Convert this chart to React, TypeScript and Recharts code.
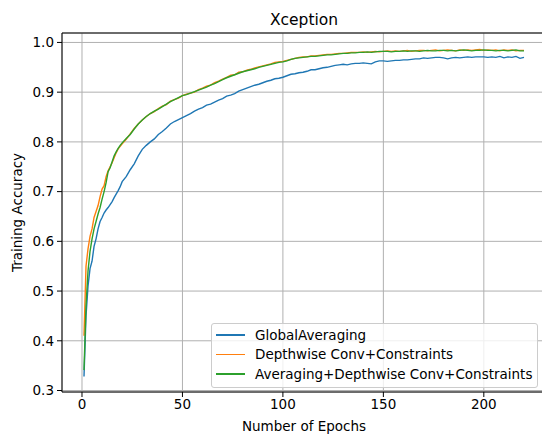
import { LineChart, Line, XAxis, YAxis, CartesianGrid, Legend, ReferenceLine } from 'recharts';

const FONT = '"DejaVu Sans", sans-serif';

const COLORS = {
  global: '#1f77b4',
  depthwise: '#ff7f0e',
  combined: '#2ca02c',
  grid: '#b0b0b0',
  text: '#000000',
};

// epochs 1..20 every epoch, then every second epoch up to 220
const epochs = [
  1, 2, 3, 4, 5, 6, 7, 8, 9, 10, 11, 12, 13, 14, 15, 16, 17, 18, 19, 20,
  22, 24, 26, 28, 30, 32, 34, 36, 38, 40, 42, 44, 46, 48, 50, 52, 54, 56, 58, 60,
  62, 64, 66, 68, 70, 72, 74, 76, 78, 80, 82, 84, 86, 88, 90, 92, 94, 96, 98, 100,
  102, 104, 106, 108, 110, 112, 114, 116, 118, 120, 122, 124, 126, 128, 130, 132, 134, 136, 138, 140,
  142, 144, 146, 148, 150, 152, 154, 156, 158, 160, 162, 164, 166, 168, 170, 172, 174, 176, 178, 180,
  182, 184, 186, 188, 190, 192, 194, 196, 198, 200, 202, 204, 206, 208, 210, 212, 214, 216, 218, 220,
];

const globalAveraging = [
  0.328, 0.45, 0.51, 0.545, 0.56, 0.59, 0.605, 0.625, 0.64, 0.648, 0.657, 0.663, 0.668, 0.674, 0.68, 0.688, 0.695, 0.702, 0.71, 0.72,
  0.73, 0.744, 0.756, 0.772, 0.785, 0.793, 0.8, 0.806, 0.815, 0.821, 0.828, 0.836, 0.841, 0.845, 0.849, 0.853, 0.857, 0.862, 0.866, 0.869,
  0.874, 0.876, 0.88, 0.884, 0.887, 0.892, 0.894, 0.897, 0.902, 0.905, 0.908, 0.911, 0.914, 0.916, 0.919, 0.922, 0.924, 0.927, 0.928, 0.93,
  0.933, 0.936, 0.937, 0.939, 0.94, 0.942, 0.945, 0.945, 0.947, 0.949, 0.95, 0.952, 0.954, 0.955, 0.956, 0.955, 0.957, 0.958, 0.958, 0.959,
  0.958, 0.957, 0.961, 0.963, 0.963, 0.962, 0.963, 0.964, 0.964, 0.965, 0.965, 0.966, 0.967, 0.967, 0.969, 0.968, 0.969, 0.97, 0.97, 0.969,
  0.967, 0.969, 0.97, 0.969, 0.97, 0.971, 0.97, 0.971, 0.971, 0.971, 0.97, 0.971, 0.97, 0.972, 0.969, 0.971, 0.97, 0.972, 0.968, 0.97,
];

const depthwiseConstraints = [
  0.41, 0.55, 0.585, 0.61, 0.625, 0.648, 0.66, 0.672, 0.69, 0.705, 0.712, 0.73, 0.742, 0.75, 0.758, 0.768, 0.778, 0.786, 0.791, 0.796,
  0.805, 0.816, 0.827, 0.836, 0.844, 0.851, 0.857, 0.861, 0.867, 0.872, 0.875, 0.882, 0.885, 0.888, 0.893, 0.896, 0.898, 0.9, 0.905, 0.908,
  0.912, 0.914, 0.919, 0.922, 0.926, 0.93, 0.934, 0.935, 0.94, 0.941, 0.944, 0.946, 0.949, 0.951, 0.953, 0.955, 0.957, 0.96, 0.961, 0.962,
  0.964, 0.966, 0.968, 0.97, 0.971, 0.971, 0.973, 0.973, 0.974, 0.975, 0.976, 0.976, 0.977, 0.978, 0.978, 0.979, 0.98, 0.98, 0.98, 0.981,
  0.98, 0.981, 0.982, 0.981, 0.982, 0.983, 0.982, 0.983, 0.982, 0.983, 0.984, 0.982, 0.983, 0.984, 0.984, 0.983, 0.984, 0.985, 0.983, 0.984,
  0.985, 0.984, 0.983, 0.985, 0.984, 0.985, 0.984, 0.985, 0.986, 0.984, 0.985, 0.984, 0.985, 0.983, 0.985, 0.984, 0.985, 0.983, 0.984, 0.984,
];

const averagingDepthwise = [
  0.341, 0.47, 0.54, 0.58, 0.605, 0.625, 0.64, 0.655, 0.668, 0.685, 0.7, 0.718, 0.74, 0.748, 0.76, 0.772, 0.78, 0.787, 0.793, 0.798,
  0.807, 0.815, 0.826, 0.836, 0.844, 0.851, 0.857, 0.862, 0.866, 0.871, 0.876, 0.881, 0.885, 0.889, 0.893, 0.895, 0.898, 0.901, 0.904, 0.907,
  0.91, 0.914, 0.917, 0.921, 0.925, 0.929, 0.932, 0.935, 0.938, 0.941, 0.943, 0.945, 0.947, 0.95, 0.952, 0.954, 0.956, 0.958, 0.96, 0.961,
  0.963, 0.966, 0.968, 0.969, 0.97, 0.971, 0.972, 0.972, 0.973, 0.974, 0.975, 0.975, 0.976, 0.977, 0.978, 0.978, 0.979, 0.979, 0.98, 0.98,
  0.981, 0.98, 0.981, 0.982, 0.982, 0.982, 0.981, 0.982, 0.982, 0.983, 0.982, 0.983, 0.983, 0.982, 0.983, 0.984, 0.983, 0.983, 0.984, 0.984,
  0.983, 0.984, 0.983, 0.984, 0.985, 0.984, 0.983, 0.984, 0.984, 0.985, 0.984, 0.984, 0.983, 0.984, 0.984, 0.983, 0.984, 0.985, 0.983, 0.983,
];

const xTicks = [0, 50, 100, 150, 200];
const yTicks = [0.3, 0.4, 0.5, 0.6, 0.7, 0.8, 0.9, 1.0];

const SERIES = [
  { key: 'global', name: 'GlobalAveraging', color: COLORS.global },
  { key: 'depthwise', name: 'Depthwise Conv+Constraints', color: COLORS.depthwise },
  { key: 'combined', name: 'Averaging+Depthwise Conv+Constraints', color: COLORS.combined },
];

const data = epochs.map((epoch, i) => ({
  epoch,
  global: globalAveraging[i],
  depthwise: depthwiseConstraints[i],
  combined: averagingDepthwise[i],
}));

const Y_MIN = 0.297;
const Y_MAX = 1.019;

const LegendBox = () => (
  <div
    style={{
      border: '1px solid #cccccc',
      borderRadius: 3,
      background: 'rgba(255,255,255,0.8)',
      padding: '1px 4px 3px 4px',
      fontFamily: FONT,
      fontSize: 13.5,
      color: COLORS.text,
      whiteSpace: 'nowrap',
    }}
  >
    {SERIES.map((s) => (
      <div key={s.key} style={{ display: 'flex', alignItems: 'center', height: 19.5 }}>
        <span style={{ display: 'inline-block', width: 29, height: 1.5, background: s.color, marginRight: 10 }} />
        <span>{s.name}</span>
      </div>
    ))}
  </div>
);

export default function App() {
  return (
    <div style={{ position: 'absolute', left: 0, top: 0, width: 542, height: 436, overflow: 'hidden', background: '#fff' }}>
      <div
        style={{
          position: 'absolute',
          left: 0,
          width: 608,
          top: 11,
          textAlign: 'center',
          fontFamily: FONT,
          fontSize: 15.5,
          color: COLORS.text,
        }}
      >
        Xception
      </div>
      <LineChart width={560} height={436} data={data} margin={{ top: 33, right: 14, bottom: 0, left: 0 }}>
        <CartesianGrid stroke={COLORS.grid} strokeWidth={1} horizontal vertical />
        <XAxis
          dataKey="epoch"
          type="number"
          domain={[-9.95, 230.95]}
          ticks={xTicks}
          allowDataOverflow
          height={44}
          stroke="#000"
          tickSize={5}
          tick={{ fill: COLORS.text, fontSize: 13.5, fontFamily: FONT }}
          label={({ viewBox }: any) => (
            <text
              x={viewBox.x + viewBox.width / 2}
              y={viewBox.y + 39}
              textAnchor="middle"
              fill={COLORS.text}
              fontSize={13.5}
              fontFamily={FONT}
            >
              Number of Epochs
            </text>
          )}
        />
        <YAxis
          type="number"
          domain={[Y_MIN, Y_MAX]}
          ticks={yTicks}
          allowDataOverflow
          width={62}
          stroke="#000"
          tickSize={5}
          tickMargin={3}
          tickFormatter={(v: number) => v.toFixed(1)}
          tick={{ fill: COLORS.text, fontSize: 13.5, fontFamily: FONT }}
          label={({ viewBox }: any) => {
            const cy = viewBox.y + viewBox.height / 2;
            return (
              <text
                x={22}
                y={cy}
                transform={`rotate(-90, 22, ${cy})`}
                textAnchor="middle"
                fill={COLORS.text}
                fontSize={13.5}
                fontFamily={FONT}
              >
                Training Accuracy
              </text>
            );
          }}
        />
        <ReferenceLine y={Y_MAX} stroke="#000" strokeWidth={1} />
        {SERIES.map((s) => (
          <Line
            key={s.key}
            type="linear"
            dataKey={s.key}
            name={s.name}
            stroke={s.color}
            strokeWidth={1.4}
            dot={false}
            isAnimationActive={false}
          />
        ))}
        <Legend
          layout="vertical"
          align="center"
          verticalAlign="middle"
          content={() => <LegendBox />}
          wrapperStyle={{ position: 'absolute', left: 211, top: 323, width: 327 }}
        />
      </LineChart>
    </div>
  );
}
